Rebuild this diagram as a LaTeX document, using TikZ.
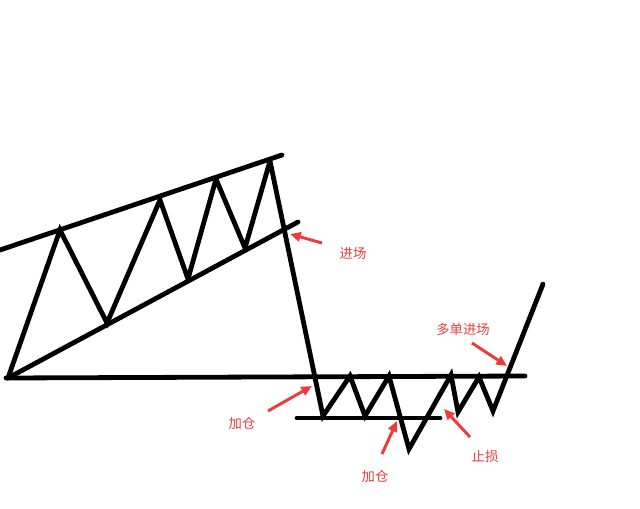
\documentclass[tikz,border=0pt]{standalone}
\usepackage{fontspec}
\newfontfamily\cjk{Noto Sans CJK SC}
\usetikzlibrary{arrows.meta}
\definecolor{arrred}{RGB}{238,58,58}
\begin{document}
\begin{tikzpicture}[x=0.75pt,y=-0.75pt,
  blk/.style={line width=3.6pt,black,line cap=round,line join=miter,miter limit=3},
  redarr/.style={line width=2.2pt,arrred,-{Triangle[length=8pt,width=7pt]}},
  lbl/.style={text=arrred,font=\cjk\fontsize{10}{12}\selectfont,inner sep=0pt}]
\useasboundingbox (0,0) rectangle (640,508);
% channel lines
\coordinate (u1) at (0,250);
\coordinate (u2) at (282,155);
\coordinate (l1) at (8,378);
\coordinate (l2) at (298,222);
\coordinate (h1) at (6,378);
\coordinate (h2) at (525,376);
\coordinate (s1) at (297,418);
\coordinate (s2) at (440,418);
\draw[blk] (u1) -- (u2);
\draw[blk] (l1) -- (l2);
\draw[blk] (h1) -- (h2);
\draw[blk] (s1) -- (s2);
% price path
\coordinate (p0) at (8,378);
\coordinate (p1) at (60,230);
\coordinate (p2) at (107,323);
\coordinate (p3) at (160,200);
\coordinate (p4) at (188,279);
\coordinate (p5) at (216,179);
\coordinate (p6) at (245,248);
\coordinate (p7) at (270,161);
\coordinate (p8) at (323,416);
\coordinate (p9) at (350,376);
\coordinate (p10) at (365,416);
\coordinate (p11) at (389,376);
\coordinate (p12) at (409,449);
\coordinate (p13) at (451,375);
\coordinate (p14) at (458,412);
\coordinate (p15) at (479,377);
\coordinate (p16) at (493,411);
\coordinate (p17) at (543,284);
\draw[blk] (p0) -- (p1) -- (p2) -- (p3) -- (p4) -- (p5) -- (p6) -- (p7) -- (p8) -- (p9) -- (p10) -- (p11) -- (p12) -- (p13) -- (p14) -- (p15) -- (p16) -- (p17);
% labels
\node[lbl] (t1) at (353,254) {进场};
\node[lbl] (t2) at (242,423) {加仓};
\node[lbl] (t3) at (375,476) {加仓};
\node[lbl] (t4) at (485,456) {止损};
\node[lbl] (t5) at (463,329) {多单进场};
% arrows
\coordinate (a1s) at (322,243); \coordinate (a1e) at (290,234);
\coordinate (a2s) at (268,411); \coordinate (a2e) at (312,386);
\coordinate (a3s) at (382,454); \coordinate (a3e) at (397,421);
\coordinate (a4s) at (470,437); \coordinate (a4e) at (444,409);
\coordinate (a5s) at (472,343); \coordinate (a5e) at (507,366);
\draw[redarr] (a1s) -- (a1e);
\draw[redarr] (a2s) -- (a2e);
\draw[redarr] (a3s) -- (a3e);
\draw[redarr] (a4s) -- (a4e);
\draw[redarr] (a5s) -- (a5e);
\end{tikzpicture}
\end{document}
